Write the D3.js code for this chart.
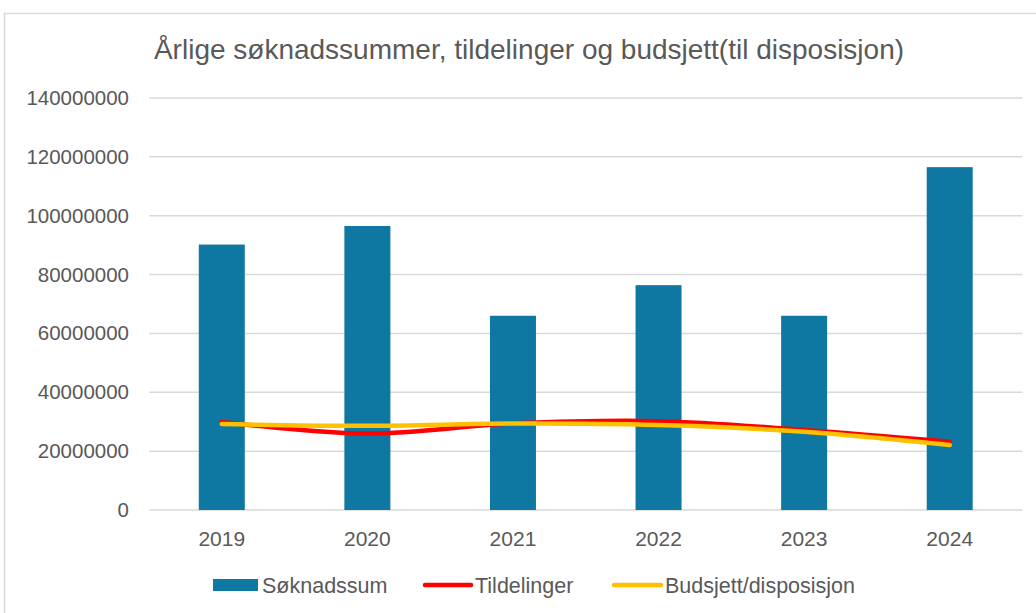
<!DOCTYPE html>
<html>
<head>
<meta charset="utf-8">
<script src="https://cdn.jsdelivr.net/npm/d3@7"></script>
<style>
  body { margin: 0; background: #fff; }
  svg { display: block; font-family: "Liberation Sans", Arial, sans-serif; }
</style>
</head>
<body>
<svg id="chart"></svg>
<script>
let years = ["2019", "2020", "2021", "2022", "2023", "2024"];
let soknadssum = [90200000, 96500000, 66000000, 76400000, 66000000, 116500000];
let tildelinger = [29900000, 26000000, 29400000, 30200000, 27200000, 23200000];
let budsjett = [29200000, 28600000, 29400000, 28900000, 26600000, 22100000];
let yTicks = [0, 20000000, 40000000, 60000000, 80000000, 100000000, 120000000, 140000000];

let w = 1036, h = 613;
let svg = d3.select("#chart").attr("width", w).attr("height", h);

// chart frame
svg.append("path")
    .attr("d", "M4.5," + h + "V13.5H" + w)
    .attr("fill", "none")
    .attr("stroke", "#d9d9d9")
    .attr("stroke-width", 1.5);

svg.append("text")
    .attr("x", 529).attr("y", 59)
    .attr("text-anchor", "middle")
    .attr("fill", "#595959")
    .style("font-size", "28px")
    .text("Årlige søknadssummer, tildelinger og budsjett(til disposisjon)");

let x = d3.scaleBand().domain(years).range([149, 1022.5]);
let y = d3.scaleLinear().domain([0, 140000000]).range([510, 98]);

// gridlines
svg.append("g").selectAll("line")
    .data(yTicks)
    .enter().append("line")
    .attr("x1", 149).attr("x2", 1022.5)
    .attr("y1", d => y(d)).attr("y2", d => y(d))
    .attr("stroke", "#d9d9d9")
    .attr("stroke-width", 1.5);

// y labels
svg.append("g").selectAll("text")
    .data(yTicks)
    .enter().append("text")
    .attr("x", 129).attr("y", d => y(d) + 7)
    .attr("text-anchor", "end")
    .attr("fill", "#595959")
    .style("font-size", "20.5px")
    .text(d => d);

// bars
let barW = x.bandwidth() * 0.316;
svg.append("g").selectAll("rect")
    .data(years)
    .enter().append("rect")
    .attr("x", d => x(d) + x.bandwidth() / 2 - barW / 2)
    .attr("y", (d, i) => y(soknadssum[i]))
    .attr("width", barW)
    .attr("height", (d, i) => y(0) - y(soknadssum[i]))
    .attr("fill", "#0e77a2");

// x labels
svg.append("g").selectAll("text")
    .data(years)
    .enter().append("text")
    .attr("x", d => x(d) + x.bandwidth() / 2)
    .attr("y", 546)
    .attr("text-anchor", "middle")
    .attr("fill", "#595959")
    .style("font-size", "21px")
    .text(d => d);

// smoothed lines
let line = d3.line()
    .x((d, i) => x(years[i]) + x.bandwidth() / 2)
    .y(d => y(d))
    .curve(d3.curveCatmullRom.alpha(0));

svg.append("path")
    .attr("d", line(tildelinger))
    .attr("fill", "none")
    .attr("stroke", "#ff0000")
    .attr("stroke-width", 4.5)
    .attr("stroke-linecap", "round");

svg.append("path")
    .attr("d", line(budsjett))
    .attr("fill", "none")
    .attr("stroke", "#ffc000")
    .attr("stroke-width", 4.5)
    .attr("stroke-linecap", "round");

// legend
let legend = svg.append("g").style("font-size", "21.5px").attr("fill", "#595959");
legend.append("rect").attr("x", 213).attr("y", 579).attr("width", 45).attr("height", 12).attr("fill", "#0e77a2");
legend.append("text").attr("x", 262).attr("y", 593).text("Søknadssum");
legend.append("line").attr("x1", 425).attr("x2", 471).attr("y1", 585).attr("y2", 585)
    .attr("stroke", "#ff0000").attr("stroke-width", 4.5).attr("stroke-linecap", "round");
legend.append("text").attr("x", 475).attr("y", 593).text("Tildelinger");
legend.append("line").attr("x1", 614).attr("x2", 661).attr("y1", 585).attr("y2", 585)
    .attr("stroke", "#ffc000").attr("stroke-width", 4.5).attr("stroke-linecap", "round");
legend.append("text").attr("x", 665).attr("y", 593).text("Budsjett/disposisjon");
</script>
</body>
</html>
